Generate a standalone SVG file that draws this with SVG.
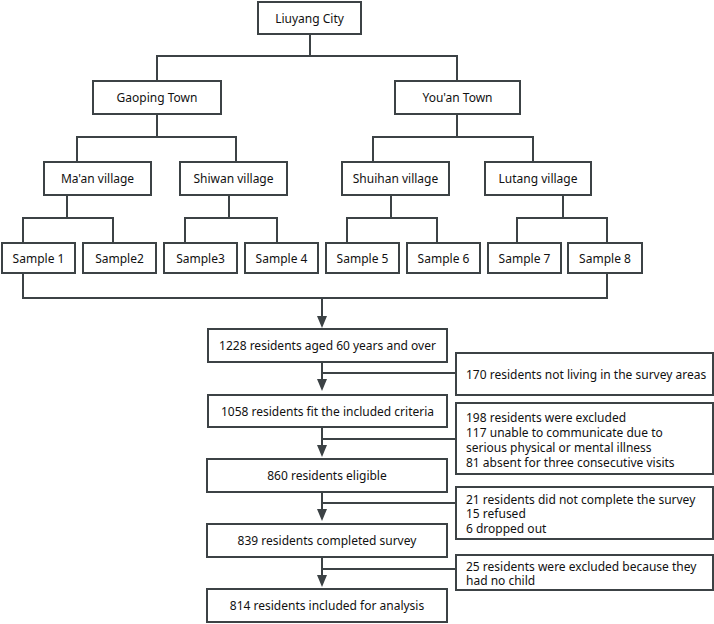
<svg xmlns="http://www.w3.org/2000/svg" width="714" height="624" viewBox="0 0 714 624">
<defs>
<style>
rect{fill:#fff;stroke:#3c4245;stroke-width:2}
.c path{fill:none;stroke:#3c4245;stroke-width:2}
.c .ah{fill:#3c4245;stroke:none}
text{font-family:"Noto Sans","Open Sans",sans-serif;font-size:12px;fill:#111}
.m{text-anchor:middle;dominant-baseline:central}
.l{dominant-baseline:central}
</style>
</defs>
<rect x="0" y="0" width="714" height="624" style="stroke:none"/>
<g class="c" id="connectors">
<path d="M310,34 V56 M157,81 V56 H457 V81"/>
<path d="M157,114 V137 M77,162 V137 H236 V162"/>
<path d="M457,114 V137 M373,162 V137 H533 V162"/>
<path d="M67,195 V218 M23,243 V218 H113 V243"/>
<path d="M229,195 V218 M185,243 V218 H277 V243"/>
<path d="M391,195 V218 M347,243 V218 H437 V243"/>
<path d="M563,195 V218 M517,243 V218 H607 V243"/>
<path d="M23,273 V298 H607 V273 M322,298 V316"/>
<path d="M322,362 V379 M322,373 H456"/>
<path d="M322,427 V445 M322,439 H456"/>
<path d="M322,492 V509 M322,503 H456"/>
<path d="M322,557 V575 M322,569 H456"/>
<path class="ah" d="M317,316 H327 L322,328 Z M317,379 H327 L322,391 Z M317,445 H327 L322,457 Z M317,509 H327 L322,521 Z M317,575 H327 L322,587 Z"/>
</g>
<g id="liuyang"><rect x="258" y="2" width="103" height="32"/><text class="m" x="309.5" y="18">Liuyang City</text></g>
<g id="gaoping"><rect x="93" y="81" width="128" height="33"/><text class="m" x="157" y="97.5">Gaoping Town</text></g>
<g id="youan"><rect x="395" y="81" width="125" height="33"/><text class="m" x="457.5" y="97.5">You'an Town</text></g>
<g id="maan"><rect x="44" y="162" width="107" height="33"/><text class="m" x="97.5" y="178.5">Ma'an village</text></g>
<g id="shiwan"><rect x="180" y="162" width="107" height="33"/><text class="m" x="233.5" y="178.5">Shiwan village</text></g>
<g id="shuihan"><rect x="342" y="162" width="107" height="33"/><text class="m" x="395.5" y="178.5">Shuihan village</text></g>
<g id="lutang"><rect x="485" y="162" width="106" height="33"/><text class="m" x="538" y="178.5">Lutang village</text></g>
<g id="s1"><rect x="2" y="243" width="73" height="30"/><text class="m" x="38.5" y="258">Sample 1</text></g>
<g id="s2"><rect x="83" y="243" width="73" height="30"/><text class="m" x="119.5" y="258">Sample2</text></g>
<g id="s3"><rect x="164" y="243" width="73" height="30"/><text class="m" x="200.5" y="258">Sample3</text></g>
<g id="s4"><rect x="245" y="243" width="73" height="30"/><text class="m" x="281.5" y="258">Sample 4</text></g>
<g id="s5"><rect x="326" y="243" width="73" height="30"/><text class="m" x="362.5" y="258">Sample 5</text></g>
<g id="s6"><rect x="407" y="243" width="73" height="30"/><text class="m" x="443.5" y="258">Sample 6</text></g>
<g id="s7"><rect x="488" y="243" width="73" height="30"/><text class="m" x="524.5" y="258">Sample 7</text></g>
<g id="s8"><rect x="568" y="243" width="74" height="30"/><text class="m" x="605" y="258">Sample 8</text></g>
<g id="n1228"><rect x="208" y="329" width="239" height="33"/><text class="m" x="327.5" y="345.5">1228 residents aged 60 years and over</text></g>
<g id="e170"><rect x="456" y="353" width="257" height="42"/><text class="l" x="466" y="374">170 residents not living in the survey areas</text></g>
<g id="n1058"><rect x="208" y="395" width="239" height="32"/><text class="m" x="327.5" y="411">1058 residents fit the included criteria</text></g>
<g id="e198"><rect x="456" y="403" width="257" height="71"/><text class="l" x="466" y="417">198 residents were excluded</text><text class="l" x="466" y="432">117 unable to communicate due to</text><text class="l" x="466" y="447">serious physical or mental illness</text><text class="l" x="466" y="462">81 absent for three consecutive visits</text></g>
<g id="n860"><rect x="207" y="459" width="240" height="33"/><text class="m" x="327" y="475.5">860 residents eligible</text></g>
<g id="e21"><rect x="456" y="487" width="257" height="52"/><text class="l" x="466" y="499">21 residents did not complete the survey</text><text class="l" x="466" y="513.5">15 refused</text><text class="l" x="466" y="528">6 dropped out</text></g>
<g id="n839"><rect x="207" y="524" width="240" height="33"/><text class="m" x="327" y="540.5">839 residents completed survey</text></g>
<g id="e25"><rect x="456" y="555" width="257" height="35"/><text class="l" x="466" y="566">25 residents were excluded because they</text><text class="l" x="466" y="580">had no child</text></g>
<g id="n814"><rect x="207" y="589" width="240" height="33"/><text class="m" x="327" y="605.5">814 residents included for analysis</text></g>
</svg>
